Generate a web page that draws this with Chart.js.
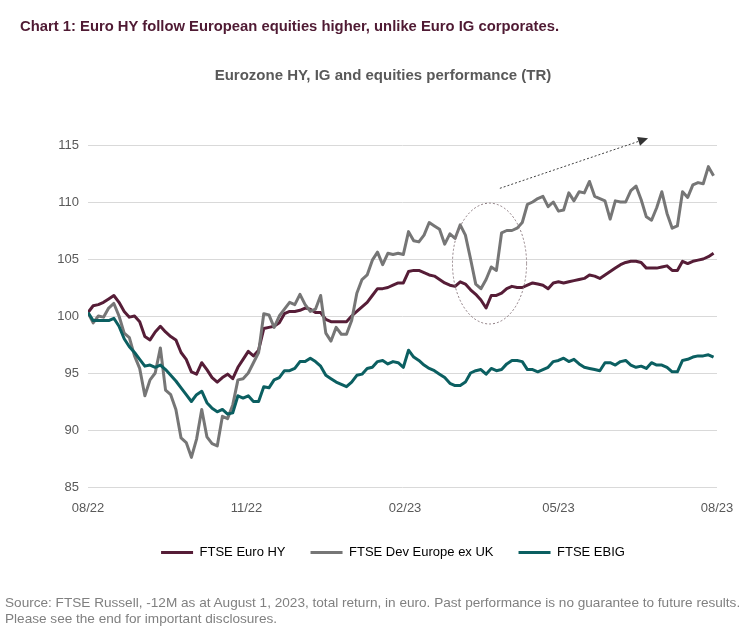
<!DOCTYPE html>
<html>
<head>
<meta charset="utf-8">
<script src="https://cdn.jsdelivr.net/npm/chart.js@4"></script>
<style>
  body { margin: 0; background: #fff; }
  #wrap { position: relative; width: 748px; height: 636px; font-family: "Liberation Sans", Arial, sans-serif; }
  #wrap canvas { position: absolute; left: 0; top: 0; }
  .txt { position: absolute; white-space: nowrap; }
  #heading { left: 20px; top: 18px; font-size: 14.8px; font-weight: bold; color: #4f1a33; }
  #subtitle { left: 0; width: 766px; text-align: center; top: 66px; font-size: 15px; font-weight: bold; color: #595959; }
  #source { left: 5px; top: 595px; font-size: 13.6px; line-height: 16px; color: #808080; }
</style>
</head>
<body>
<div id="wrap">
  <canvas id="myChart" width="748" height="636"></canvas>
  <div class="txt" id="heading">Chart 1: Euro HY follow European equities higher, unlike Euro IG corporates.</div>
  <div class="txt" id="subtitle">Eurozone HY, IG and equities performance (TR)</div>
  <div class="txt" id="source">Source: FTSE Russell, -12M as at August 1, 2023, total return, in euro. Past performance is no guarantee to future results.<br>Please see the end for important disclosures.</div>
</div>
<script>
(function(){
// days since 01/08/2022, one reading every 3 days
const days = Array.from({ length: 122 }, (_, i) => i * 3);

const tickDays = [0, 92, 184, 273, 365];
const tickLabels = ['08/22', '11/22', '02/23', '05/23', '08/23'];

const seriesNames = ['FTSE Euro HY', 'FTSE Dev Europe ex UK', 'FTSE EBIG'];
const seriesColors = ['#561d37', '#767676', '#0b5f61'];

const euroHY = [
  100.3, 100.9, 101.0, 101.2, 101.5, 101.8, 101.2, 100.4, 99.9, 100.0,
  99.5, 98.2, 97.9, 98.6, 99.1, 98.6, 98.2, 97.9, 96.8, 96.2,
  95.1, 94.9, 95.9, 95.3, 94.6, 94.2, 94.6, 94.9, 94.5, 95.5,
  96.2, 96.9, 96.5, 97.0, 98.9, 99.0, 99.1, 99.4, 100.2, 100.4,
  100.4, 100.5, 100.7, 100.6, 100.3, 100.3, 99.7, 99.5, 99.5, 99.5,
  99.5, 100.0, 100.4, 100.8, 101.2, 101.8, 102.4, 102.4, 102.5, 102.7,
  102.9, 102.9, 103.9, 104.0, 104.0, 103.8, 103.6, 103.5, 103.2, 102.9,
  102.7, 102.6, 103.0, 102.8, 102.3, 101.9, 101.4, 100.7, 101.8, 101.8,
  102.0, 102.4, 102.6, 102.5, 102.5, 102.7, 102.9, 102.8, 102.7, 102.4,
  102.9, 103.0, 102.9, 103.0, 103.1, 103.2, 103.3, 103.6, 103.5, 103.3,
  103.6, 103.9, 104.2, 104.5, 104.7, 104.8, 104.8, 104.7, 104.2, 104.2,
  104.2, 104.3, 104.4, 104.0, 104.0, 104.8, 104.6, 104.8, 104.9, 105.0,
  105.2, 105.5
];

const devEurope = [
  100.3, 99.4, 100.0, 99.9, 100.7, 101.1, 100.0, 98.5, 98.1, 96.5,
  95.4, 93.0, 94.4, 95.0, 97.2, 93.5, 93.1, 91.8, 89.3, 88.9,
  87.6, 89.2, 91.8, 89.4, 88.8, 88.6, 91.2, 91.0, 92.2, 94.4,
  94.5, 95.0, 95.9, 96.8, 100.2, 100.1, 99.0, 100.0, 100.6, 101.2,
  101.0, 101.9, 101.0, 100.4, 100.6, 101.8, 98.5, 97.8, 99.0, 98.4,
  98.4, 99.6, 102.0, 103.2, 103.6, 104.9, 105.6, 104.5, 105.5, 105.4,
  105.5, 105.4, 107.4, 106.6, 106.5, 107.1, 108.2, 107.9, 107.6, 106.3,
  107.2, 106.8, 108.0, 107.1, 105.0, 102.8, 102.4, 103.2, 104.3, 104.0,
  107.3, 107.5, 107.5, 107.7, 108.2, 109.8, 110.0, 110.3, 110.5, 109.6,
  110.0, 109.2, 109.3, 110.8, 110.1, 110.9, 110.8, 111.8, 110.5, 110.3,
  110.1, 108.5, 110.1, 110.0, 110.0, 111.0, 111.4, 110.2, 108.7, 108.4,
  109.5, 110.9, 109.0, 107.7, 107.9, 110.9, 110.4, 111.5, 111.7, 111.6,
  113.1, 112.3
];

const ebig = [
  100.3, 99.6, 99.6, 99.6, 99.6, 99.8, 99.1, 98.0, 97.3, 96.8,
  96.2, 95.6, 95.7, 95.5, 95.7, 95.3, 94.8, 94.3, 93.7, 93.1,
  92.5, 93.1, 93.4, 92.4, 91.9, 91.6, 91.8, 91.4, 91.5, 93.0,
  92.8, 93.0, 92.5, 92.5, 93.8, 93.7, 94.4, 94.6, 95.2, 95.2,
  95.4, 96.0, 96.0, 96.3, 96.0, 95.6, 94.8, 94.5, 94.2, 94.0,
  93.8, 94.2, 94.8, 94.9, 95.4, 95.5, 96.0, 96.1, 95.8, 96.0,
  95.9, 95.5, 97.0, 96.4, 96.1, 95.7, 95.4, 95.2, 94.9, 94.6,
  94.1, 93.9, 93.9, 94.2, 95.0, 95.2, 95.3, 94.9, 95.4, 95.2,
  95.3, 95.8, 96.1, 96.1, 96.0, 95.3, 95.3, 95.1, 95.3, 95.5,
  96.0, 96.1, 96.3, 96.0, 96.2, 95.8, 95.5, 95.4, 95.3, 95.2,
  95.9, 95.9, 95.7, 96.0, 96.1, 95.7, 95.5, 95.6, 95.4, 95.9,
  95.7, 95.7, 95.5, 95.1, 95.1, 96.1, 96.2, 96.4, 96.5, 96.5,
  96.6, 96.4
];

// hand-drawn marks on the original: ellipse round the March dip, trend arrow
const ellipseNote = { x: 233, y: 104.6, rx: 21.5, ry: 5.3 };
const arrowNote = { x0: 239, y0: 111.2, x1: 325, y1: 115.6 };

const notes = {
  id: 'notes',
  afterLayout(chart) {
    // let the y tick labels spill into the left padding instead of being clipped
    chart.scales.y.left = 0;
  },
  afterDatasetsDraw(chart) {
    const { ctx, scales: { x, y } } = chart;
    ctx.save();
    // ellipse
    const cx = x.getPixelForValue(ellipseNote.x), cy = y.getPixelForValue(ellipseNote.y);
    const rx = x.getPixelForValue(ellipseNote.x + ellipseNote.rx) - cx;
    const ry = cy - y.getPixelForValue(ellipseNote.y + ellipseNote.ry);
    ctx.beginPath();
    ctx.ellipse(cx, cy, rx, ry, 0, 0, Math.PI * 2);
    ctx.setLineDash([2, 2]);
    ctx.lineWidth = 1;
    ctx.strokeStyle = '#8c7b80';
    ctx.stroke();
    // arrow
    const ax0 = x.getPixelForValue(arrowNote.x0), ay0 = y.getPixelForValue(arrowNote.y0);
    const ax1 = x.getPixelForValue(arrowNote.x1), ay1 = y.getPixelForValue(arrowNote.y1);
    const ang = Math.atan2(ay1 - ay0, ax1 - ax0);
    ctx.beginPath();
    ctx.moveTo(ax0, ay0);
    ctx.lineTo(ax1 - 8 * Math.cos(ang), ay1 - 8 * Math.sin(ang));
    ctx.strokeStyle = '#404040';
    ctx.stroke();
    ctx.setLineDash([]);
    ctx.beginPath();
    ctx.moveTo(ax1, ay1);
    ctx.lineTo(ax1 - 10 * Math.cos(ang) + 4.5 * Math.sin(ang), ay1 - 10 * Math.sin(ang) - 4.5 * Math.cos(ang));
    ctx.lineTo(ax1 - 10 * Math.cos(ang) - 4.5 * Math.sin(ang), ay1 - 10 * Math.sin(ang) + 4.5 * Math.cos(ang));
    ctx.closePath();
    ctx.fillStyle = '#333333';
    ctx.fill();
    ctx.restore();
  }
};

const seriesData = [euroHY, devEurope, ebig];

new Chart(document.getElementById('myChart'), {
  type: 'line',
  data: {
    datasets: seriesData.map((vals, i) => ({
      label: seriesNames[i],
      data: vals.map((v, j) => ({ x: days[j], y: v })),
      borderColor: seriesColors[i],
      backgroundColor: seriesColors[i],
      borderWidth: 3,
      pointRadius: 0,
      tension: 0,
      borderJoinStyle: 'round'
    })).reverse()
  },
  options: {
    responsive: false,
    animation: false,
    layout: { padding: { left: 69, right: 31, top: 145, bottom: 67 } },
    plugins: {
      title: { display: false },
      tooltip: { enabled: false },
      legend: {
        position: 'bottom',
        reverse: true,
        labels: {
          boxWidth: 32,
          boxHeight: 3,
          padding: 25,
          color: '#595959',
          font: { family: '"Liberation Sans", Arial, sans-serif', size: 13 },
          generateLabels: (chart) => chart.data.datasets.map((d, i) => ({
            text: d.label,
            fillStyle: d.borderColor,
            strokeStyle: d.borderColor,
            lineWidth: 0,
            datasetIndex: i
          }))
        }
      }
    },
    scales: {
      x: {
        type: 'linear',
        min: 0,
        max: 365,
        afterBuildTicks: (s) => { s.ticks = tickDays.map(v => ({ value: v })); },
        afterFit: (s) => { s.height = 34; },
        grid: { display: false, drawTicks: false },
        border: { display: false },
        ticks: {
          padding: 14,
          maxRotation: 0,
          color: '#595959',
          font: { family: '"Liberation Sans", Arial, sans-serif', size: 13 },
          callback: (v, i) => tickLabels[i]
        }
      },
      y: {
        min: 85,
        max: 115,
        afterFit: (s) => { s.width = 19; },
        grid: { color: '#d9d9d9', lineWidth: 1, drawTicks: false },
        border: { display: false },
        ticks: {
          stepSize: 5,
          padding: 9,
          color: '#595959',
          font: { family: '"Liberation Sans", Arial, sans-serif', size: 13 }
        }
      }
    }
  },
  plugins: [notes]
});
})();
</script>
</body>
</html>
